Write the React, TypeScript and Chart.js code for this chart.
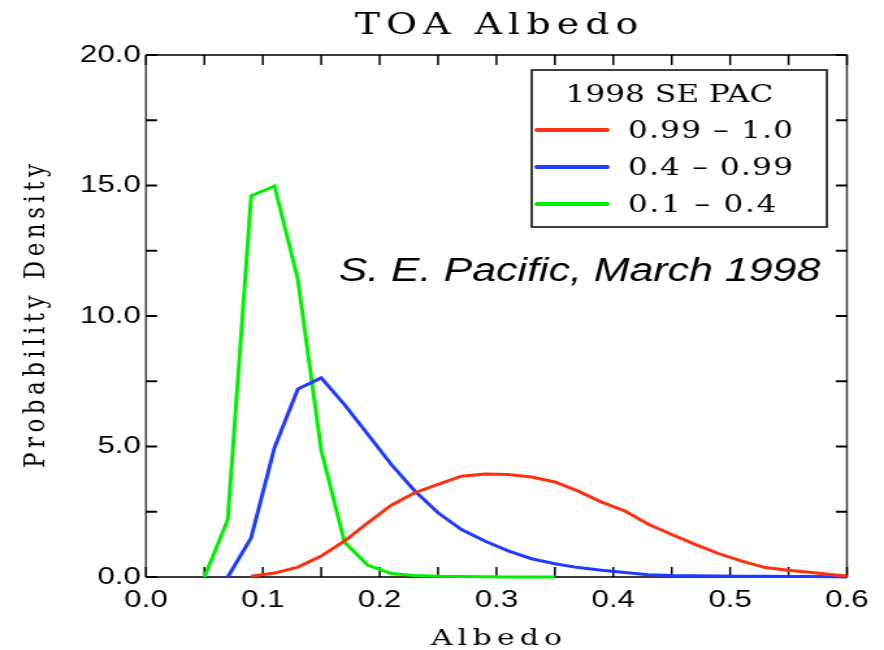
import { useEffect, useRef } from 'react';
import { Chart, registerables } from 'chart.js';

Chart.register(...registerables);

// Bin centres of the albedo histogram
const albedoBins = [
  0.05, 0.07, 0.09, 0.11, 0.13, 0.15, 0.17, 0.19, 0.21, 0.23, 0.25, 0.27, 0.29, 0.31,
  0.33, 0.35, 0.37, 0.39, 0.41, 0.43, 0.45, 0.47, 0.49, 0.51, 0.53, 0.55, 0.57, 0.59, 0.61,
];

// Cloud fraction 0.99 - 1.0
const overcastDensity = [
  null, null, 0.03, 0.15, 0.38, 0.8, 1.38, 2.08, 2.75, 3.23, 3.55, 3.86, 3.95, 3.93,
  3.83, 3.64, 3.29, 2.87, 2.53, 2.02, 1.63, 1.25, 0.9, 0.61, 0.36, 0.26, 0.17, 0.08, 0.0,
];

// Cloud fraction 0.4 - 0.99
const brokenDensity = [
  null, 0.0, 1.5, 4.96, 7.2, 7.63, 6.6, 5.46, 4.31, 3.3, 2.46, 1.82, 1.38, 1.0,
  0.7, 0.51, 0.36, 0.26, 0.17, 0.09, 0.06, 0.05, 0.04, 0.03, 0.03, 0.02, 0.02, 0.01, 0.0,
];

// Cloud fraction 0.1 - 0.4
const scatteredDensity = [
  0.0, 2.2, 14.6, 14.98, 11.4, 4.85, 1.33, 0.45, 0.13, 0.06, 0.03, 0.02, 0.01, 0.0,
  0.0, 0.0, null, null, null, null, null, null, null, null, null, null, null, null, null,
];

const seriesLabels = ['0.99 \u2013 1.0', '0.4 \u2013 0.99', '0.1 \u2013 0.4'];
const seriesColors = ['#ff3010', '#1f3cff', '#00f000'];

const xTickMarks = [0, 0.05, 0.1, 0.15, 0.2, 0.25, 0.3, 0.35, 0.4, 0.45, 0.5, 0.55, 0.6];
const yTickMarks = [0, 2.5, 5, 7.5, 10, 12.5, 15, 17.5, 20];

const chartTitle = 'TOA Albedo';
const xAxisTitle = 'Albedo';
const yAxisTitle = 'Probability Density';
const legendTitle = '1998 SE PAC';
const noteText = 'S. E. Pacific, March 1998';

const SERIF = '"DejaVu Serif", serif';

// draws text stretched by letter spacing to a target width
function fitText(
  ctx: CanvasRenderingContext2D,
  text: string,
  x: number,
  y: number,
  font: string,
  targetWidth: number,
  align: 'left' | 'center' | 'right'
) {
  ctx.save();
  ctx.font = font;
  ctx.textAlign = 'left';
  const base = ctx.measureText(text).width;
  const n = Array.from(text).length;
  const spacing = n > 1 ? Math.max(0, (targetWidth - base) / (n - 1)) : 0;
  (ctx as any).letterSpacing = spacing + 'px';
  const w = base + spacing * (n - 1);
  const sx = align === 'center' ? x - w / 2 : align === 'right' ? x - w : x;
  ctx.fillText(text, sx, y);
  ctx.restore();
}

const framePlugin = {
  id: 'frameAndTicks',
  beforeDatasetsDraw(chart: any) {
    const { ctx, chartArea: ca, scales } = chart;
    const xs = scales.x;
    const ys = scales.y;
    ctx.save();
    ctx.strokeStyle = '#3a3a3a';
    ctx.lineWidth = 2;
    ctx.beginPath();
    ctx.moveTo(ca.left, ca.top);
    ctx.lineTo(ca.right, ca.top);
    ctx.moveTo(ca.left, ca.bottom);
    ctx.lineTo(ca.right, ca.bottom);
    ctx.stroke();
    ctx.lineWidth = 1.5;
    ctx.beginPath();
    ctx.moveTo(ca.left, ca.top);
    ctx.lineTo(ca.left, ca.bottom);
    ctx.moveTo(ca.right, ca.top);
    ctx.lineTo(ca.right, ca.bottom);
    ctx.stroke();
    ctx.strokeStyle = '#000';
    ctx.lineWidth = 1.5;
    ctx.beginPath();
    for (const v of xTickMarks) {
      const px = xs.getPixelForValue(v);
      ctx.moveTo(px, ca.bottom);
      ctx.lineTo(px, ca.bottom - 10);
      ctx.moveTo(px, ca.top);
      ctx.lineTo(px, ca.top + 10);
    }
    ctx.stroke();
    ctx.lineWidth = 2;
    ctx.beginPath();
    for (const v of yTickMarks) {
      const py = ys.getPixelForValue(v);
      ctx.moveTo(ca.left, py);
      ctx.lineTo(ca.left + 8.5, py);
      ctx.moveTo(ca.right, py);
      ctx.lineTo(ca.right - 8.5, py);
    }
    ctx.stroke();
    ctx.restore();
  },
};

const textPlugin = {
  id: 'texts',
  afterDraw(chart: any) {
    const { ctx, chartArea: ca } = chart;
    ctx.save();
    ctx.fillStyle = '#000';
    ctx.textBaseline = 'alphabetic';
    const cx = (ca.left + ca.right) / 2;

    // Title
    fitText(ctx, chartTitle, cx, 34, `29px ${SERIF}`, 218, 'center');
    // X axis title
    fitText(ctx, xAxisTitle, cx, 645, `23px ${SERIF}`, 101, 'center');
    // Y axis title (rotated)
    ctx.save();
    ctx.translate(34, (ca.top + ca.bottom) / 2);
    ctx.rotate(-Math.PI / 2);
    fitText(ctx, yAxisTitle, 0, 0, `23px ${SERIF}`, 304, 'center');
    ctx.restore();

    // Annotation
    ctx.save();
    ctx.font = 'italic 33px "Liberation Sans", Arial, sans-serif';
    ctx.textAlign = 'right';
    ctx.fillText(noteText, 631, 281);
    ctx.restore();

    // Legend box
    const bx = 409, by = 70, bw = 227, bh = 157;
    ctx.save();
    ctx.fillStyle = '#fff';
    ctx.fillRect(bx, by, bw, bh);
    ctx.strokeStyle = '#111';
    ctx.lineWidth = 1.6;
    ctx.strokeRect(bx, by, bw, bh);
    ctx.restore();
    fitText(ctx, legendTitle, 515, 102, `24px ${SERIF}`, 154, 'center');
    chart.data.datasets.forEach((ds: any, i: number) => {
      const ly = 130 + i * 37;
      ctx.save();
      ctx.strokeStyle = ds.borderColor;
      ctx.lineWidth = 4;
      ctx.lineCap = 'round';
      ctx.beginPath();
      ctx.moveTo(413, ly);
      ctx.lineTo(467, ly);
      ctx.stroke();
      ctx.restore();
      const w = (Array.from(ds.label as string).length / 10) * 127;
      fitText(ctx, ds.label, 483, ly + 8, `24px ${SERIF}`, w, 'left');
    });
    ctx.restore();
  },
};

function toPoints(values: (number | null)[]) {
  const pts: { x: number; y: number }[] = [];
  albedoBins.forEach((x, i) => {
    const v = values[i];
    if (v !== null && v !== undefined) pts.push({ x, y: v });
  });
  return pts;
}

export default function App() {
  const canvasRef = useRef<HTMLCanvasElement | null>(null);

  useEffect(() => {
    if (!canvasRef.current) return;
    const series = [overcastDensity, brokenDensity, scatteredDensity];
    const chart = new Chart(canvasRef.current, {
      type: 'line',
      data: {
        datasets: series.map((vals, i) => ({
          label: seriesLabels[i],
          data: toPoints(vals),
          borderColor: seriesColors[i],
          backgroundColor: seriesColors[i],
          borderWidth: 3,
          pointRadius: 0,
          tension: 0,
          fill: false,
          clip: { left: 0, right: 0, top: false, bottom: false },
        })),
      },
      options: {
        responsive: false,
        devicePixelRatio: 1,
        animation: false,
        layout: { padding: { left: 0, right: 0, top: 0, bottom: 0 } },
        plugins: {
          legend: { display: false },
          title: { display: false },
          tooltip: { enabled: false },
        },
        scales: {
          x: {
            type: 'linear',
            position: 'bottom',
            min: 0,
            max: 0.6,
            grid: { display: false, drawTicks: false },
            border: { display: false },
            ticks: {
              stepSize: 0.1,
              padding: 9,
              color: '#000',
              font: { family: '"Liberation Sans", Arial, sans-serif', size: 24 },
              callback: (v: any) => Number(v).toFixed(1),
            },
            afterFit: (s: any) => {
              s.height = 73;
            },
          },
          xTop: {
            type: 'linear',
            position: 'top',
            min: 0,
            max: 0.6,
            grid: { display: false, drawTicks: false },
            border: { display: false },
            ticks: { display: false },
            afterFit: (s: any) => {
              s.height = 55;
            },
          },
          y: {
            type: 'linear',
            position: 'left',
            min: 0,
            max: 20,
            grid: { display: false, drawTicks: false },
            border: { display: false },
            ticks: {
              stepSize: 5,
              padding: 4,
              color: '#000',
              font: { family: '"Liberation Sans", Arial, sans-serif', size: 24 },
              callback: (v: any) => Number(v).toFixed(1),
            },
            afterFit: (s: any) => {
              s.width = 112.3;
            },
          },
          yRight: {
            type: 'linear',
            position: 'right',
            min: 0,
            max: 20,
            grid: { display: false, drawTicks: false },
            border: { display: false },
            ticks: { display: false },
            afterFit: (s: any) => {
              s.width = 28.5;
            },
          },
        },
      },
      plugins: [framePlugin, textPlugin],
    } as any);
    return () => chart.destroy();
  }, []);

  return (
    <div style={{ position: 'fixed', left: 0, top: 0, width: 884, height: 650, background: '#fff' }}>
      <canvas
        ref={canvasRef}
        width={680}
        height={650}
        style={{ width: '884px', height: '650px', display: 'block' }}
      />
    </div>
  );
}
